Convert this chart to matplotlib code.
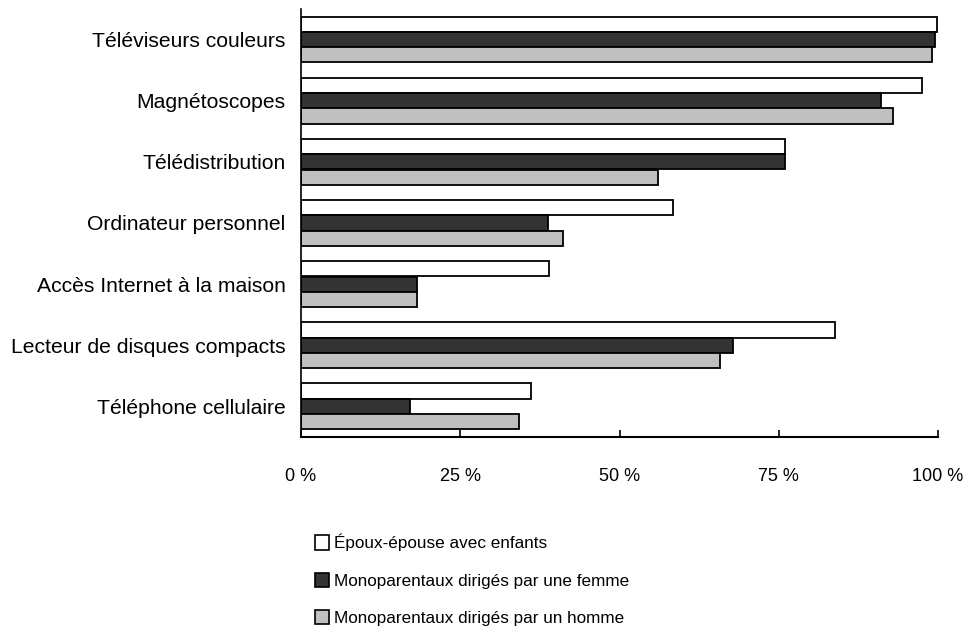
import numpy as np
import matplotlib.pyplot as plt
from matplotlib.patches import Patch

plt.rcParams['font.family'] = ['Liberation Sans', 'DejaVu Sans']

categories = ["Téléviseurs couleurs", "Magnétoscopes", "Télédistribution",
              "Ordinateur personnel", "Accès Internet à la maison",
              "Lecteur de disques compacts", "Téléphone cellulaire"]
couples = [99.8, 97.5, 76.0, 58.4, 39.0, 83.8, 36.1]
femme = [99.5, 91.0, 76.0, 38.7, 18.2, 67.8, 17.1]
homme = [99.0, 93.0, 56.0, 41.2, 18.2, 65.7, 34.3]
series_labels = ["Époux-épouse avec enfants",
                 "Monoparentaux dirigés par une femme",
                 "Monoparentaux dirigés par un homme"]
colors = ["white", "#333333", "#c0c0c0"]

fig = plt.figure(figsize=(9.71, 6.31), dpi=100)
ax = fig.add_axes([301/971, 1 - 437/631, (938-301)/971, (437-9)/631])

y = np.arange(len(categories))
h = 0.25
for i, vals in enumerate([couples, femme, homme]):
    ax.barh(y + (i - 1) * h, vals, height=h, color=colors[i],
            edgecolor="black", linewidth=1.3)

ax.set_ylim(len(categories) - 0.5, -0.5)
ax.set_xlim(0, 100)
ax.set_yticks(y)
ax.set_yticklabels(categories, fontsize=15.2)
ax.tick_params(axis="y", length=0, pad=11)
ax.set_xticks([0, 25, 50, 75, 100])
ax.set_xticklabels(["0 %", "25 %", "50 %", "75 %", "100 %"], fontsize=13)
ax.tick_params(axis="x", direction="in", length=5, pad=22, width=1.2)
for s in ["top", "right"]:
    ax.spines[s].set_visible(False)
ax.spines["left"].set_linewidth(1.2)
ax.spines["bottom"].set_linewidth(1.5)

handles = [Patch(facecolor=c, edgecolor="black", linewidth=1.2) for c in colors]
fig.legend(handles, series_labels, loc="upper left",
           bbox_to_anchor=(308/971, 1 - 527/631), frameon=False, fontsize=12.3,
           handlelength=0.85, handleheight=0.9, handletextpad=0.25,
           labelspacing=1.25, borderaxespad=0)

fig.savefig("out.png", dpi=100)
